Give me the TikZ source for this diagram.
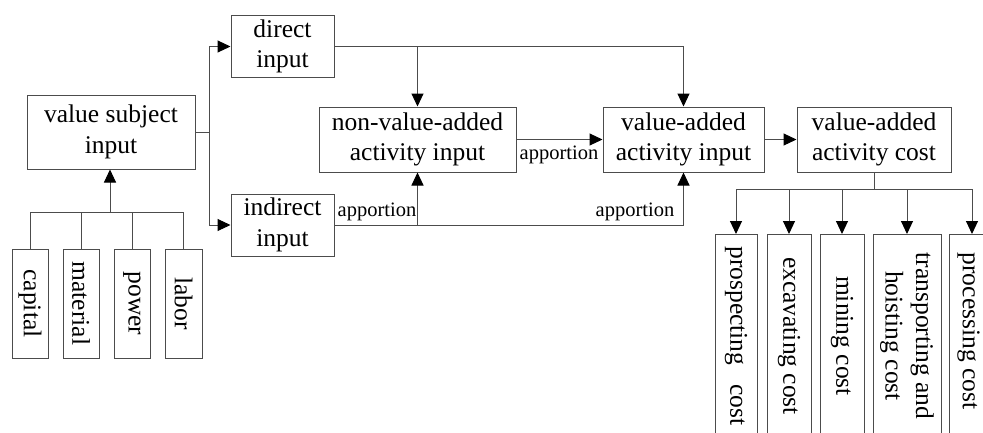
\documentclass[tikz,border=0pt]{standalone}
\usepackage{fontspec}
\setmainfont{Liberation Serif}
\usetikzlibrary{arrows.meta}
\begin{document}
\begin{tikzpicture}[x=1pt,y=-1pt,
  line width=1pt,
  box/.style={draw=black!70,fill=white,inner sep=0pt,align=center,font=\fontsize{25.5}{30.6}\selectfont},
  vbox/.style={box,anchor=west,rotate=-90,minimum height=#1,minimum width=203pt},
  lbl/.style={inner sep=0pt,font=\fontsize{20.5}{24}\selectfont},
  conn/.style={draw=black!70},
  arr/.style={conn,-{Triangle[length=13pt,width=12pt,color=black]}}]
\useasboundingbox (0,0) rectangle (983,432);
\clip (0,0) rectangle (983,432);
% left part
\node[box,minimum width=168pt,minimum height=74pt] (vsi) at (111,132) {value subject\\input};
\node[box,rotate=-90,minimum width=109pt,minimum height=36pt] (capital) at (30,303.5) {capital};
\node[box,rotate=-90,minimum width=109pt,minimum height=36pt] (material) at (81,303.5) {material};
\node[box,rotate=-90,minimum width=109pt,minimum height=36pt] (power) at (132,303.5) {power};
\node[box,rotate=-90,minimum width=109pt,minimum height=37pt] (labor) at (183.5,303.5) {labor};
\coordinate (bus) at (110,212);
\draw[conn] (capital.west) -- (capital.west |- bus) -- (labor.west |- bus) -- (labor.west);
\draw[conn] (material.west) -- (material.west |- bus);
\draw[conn] (power.west) -- (power.west |- bus);
\draw[arr] (bus) -- (bus |- vsi.south);
% inputs
\node[box,minimum width=103pt,minimum height=62pt] (direct) at (282.5,46.5) {direct\\input};
\node[box,minimum width=103pt,minimum height=62pt] (indirect) at (282.5,225) {indirect\\input};
\coordinate (split) at (209,132);
\draw[conn] (vsi.east) -- (split);
\draw[arr] (split) |- (direct.west);
\draw[arr] (split) |- (indirect.west);
% activities
\node[box,minimum width=197pt,minimum height=65pt] (nva) at (417.5,139.5) {non-value-added\\activity input};
\node[box,minimum width=161pt,minimum height=65pt] (va) at (683.5,139.5) {value-added\\activity input};
\node[box,minimum width=154pt,minimum height=65pt] (vac) at (874,139.5) {value-added\\activity cost};
\draw[arr] (direct.east) -| (va.north);
\draw[arr] (nva.north |- direct.east) -- (nva.north);
\draw[arr] (indirect.east) -| (va.south);
\draw[arr] (nva.south |- indirect.east) -- (nva.south);
\draw[arr] (nva.east) -- (va.west);
\draw[arr] (va.east) -- (vac.west);
\node[lbl] (ap1) at (377,212) {apportion};
\node[lbl] (ap2) at (635,212) {apportion};
\node[lbl] (ap3) at (559,155) {apportion};
% costs
\node[vbox=42pt] (pro) at (736,234) {prospecting\hspace{0.5em} cost};
\node[vbox=44pt] (exc) at (789,234) {excavating cost};
\node[vbox=44pt] (min) at (842,234) {mining cost};
\node[vbox=68pt] (tra) at (907,234) {transporting and\\hoisting cost};
\node[vbox=46pt] (prc) at (972,234) {};
\node[box,draw=none,fill=none,rotate=-90] (prctext) at (968.5,331) {processing cost};
\coordinate (cbus) at (874,189);
\draw[conn] (vac.south) -- (cbus);
\draw[conn] (pro.west |- cbus) -- (prc.west |- cbus);
\foreach \n in {pro,exc,min,tra,prc}
  \draw[arr] (\n.west |- cbus) -- (\n.west);
\end{tikzpicture}
\end{document}
